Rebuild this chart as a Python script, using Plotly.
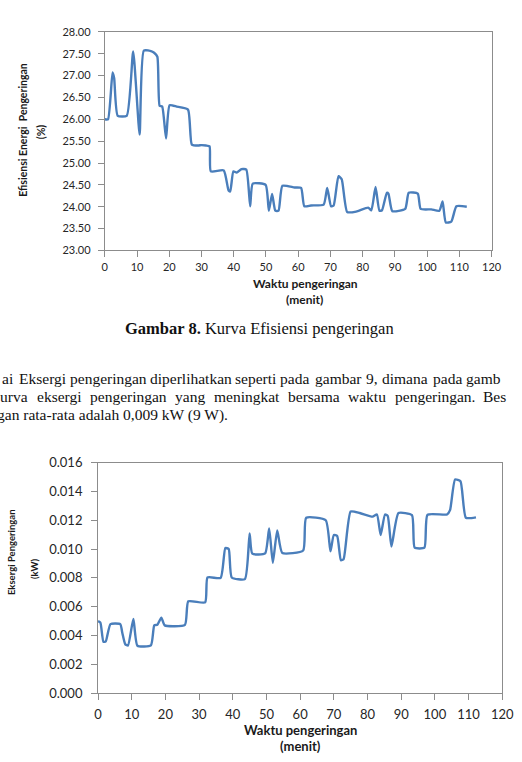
import plotly.graph_objects as go

W, H = 522, 762

# ---- Chart 1: Efisiensi energi pengeringan (%) ----
eff_time = [0, 1.0, 2.4, 2.9, 4.0, 6.8, 8.8, 10.8, 12.1, 14.3, 15.3, 16.3, 17.0, 17.8,
            19.0, 20.1, 22.3, 25.8, 27.0, 29.0, 30.0, 31.4, 32.5, 32.9, 36.9, 38.4,
            38.9, 39.9, 40.9, 42.4, 43.9, 45.1, 45.9, 49.9, 50.9, 51.9, 52.9, 53.9,
            55.1, 58.9, 60.9, 61.9, 64.0, 67.9, 69.0, 70.2, 71.0, 72.5, 73.5, 75.2,
            78.0, 81.7, 82.7, 84.0, 85.2, 86.0, 87.5, 88.0, 89.2, 93.2, 94.3, 97.1,
            98.0, 101.3, 103.8, 104.8, 105.8, 107.5, 109.1, 112.3]
eff_value = [26.00, 26.00, 27.07, 26.94, 26.08, 26.08, 27.55, 25.65, 27.57, 27.56, 27.52,
             27.43, 26.31, 26.29, 25.56, 26.32, 26.29, 26.22, 25.42, 25.40, 25.41, 25.40,
             25.38, 24.81, 24.83, 24.37, 24.35, 24.81, 24.78, 24.86, 24.85, 24.01, 24.53,
             24.50, 23.91, 24.29, 23.91, 23.91, 24.48, 24.44, 24.43, 24.01, 24.03, 24.05,
             24.43, 24.01, 24.03, 24.70, 24.63, 23.88, 23.89, 23.98, 23.92, 24.45, 23.91,
             23.92, 24.32, 24.30, 23.90, 23.95, 24.32, 24.30, 23.95, 23.94, 23.91, 24.12,
             23.64, 23.66, 24.01, 24.00]

# ---- Chart 2: Eksergi pengeringan (kW) ----
exg_time = [0, 0.7, 1.6, 2.3, 3.7, 6.6, 7.2, 8.1, 8.9, 10.5, 11.7, 15.7, 16.7, 17.6, 18.8,
            19.8, 25.8, 26.8, 31.8, 32.5, 36.4, 37.8, 38.8, 39.7, 43.6, 45.0, 45.8, 49.6,
            50.8, 51.9, 53.2, 54.7, 60.9, 61.8, 67.6, 69.0, 70.0, 71.0, 72.1, 72.9, 75.0,
            77.7, 81.5, 82.8, 83.9, 85.2, 86.0, 87.1, 89.2, 93.2, 94.0, 96.9, 97.8, 103.6,
            104.5, 106.0, 107.6, 109.2, 112.2]
exg_value = [0.00500, 0.00490, 0.00358, 0.00360, 0.00480, 0.00480, 0.00420, 0.00339,
             0.00332, 0.00516, 0.00330, 0.00332, 0.00471, 0.00475, 0.00525, 0.00471,
             0.00475, 0.00638, 0.00630, 0.00803, 0.00800, 0.01007, 0.01000, 0.00803,
             0.00792, 0.01109, 0.00968, 0.00970, 0.01143, 0.00905, 0.01130, 0.00973,
             0.00990, 0.01217, 0.01200, 0.00984, 0.01098, 0.01090, 0.00923, 0.00930,
             0.01260, 0.01250, 0.01225, 0.01240, 0.01098, 0.01240, 0.01230, 0.01018,
             0.01250, 0.01235, 0.01010, 0.01010, 0.01238, 0.01240, 0.01270, 0.01482,
             0.01470, 0.01217, 0.01220]

x_ticks = [0, 10, 20, 30, 40, 50, 60, 70, 80, 90, 100, 110, 120]
x_title = "Waktu pengeringan"
x_unit = "(menit)"
y1_title = "Efisiensi Energi  Pengeringan"
y1_unit = "(%)"
y2_title = "Eksergi Pengeringan"
y2_unit = "(kW)"
caption_bold = "Gambar 8."
caption_text = "Kurva Efisiensi pengeringan"
para_line1 = ["ai", "Eksergi", "pengeringan", "diperlihatkan", "seperti", "pada",
              "gambar", "9,", "dimana", "pada", "gamb"]
para_line2 = ["urva", "eksergi", "pengeringan", "yang", "meningkat", "bersama",
              "waktu", "pengeringan.", "Bes"]
para_line3 = "gan rata-rata adalah 0,009 kW (9 W)."

LINE = "#4a7ebb"
AX = "#8c8c8c"
TICKC = "#262626"
TICKF = "Lato, 'Open Sans', sans-serif"
SERIF = "'Liberation Serif', 'Times New Roman', serif"


def px(x):
    return x / W


def py(y):
    return 1 - y / H


fig = go.Figure()
fig.add_trace(go.Scatter(x=eff_time, y=eff_value, mode="lines",
                         line=dict(color=LINE, width=2.4, shape="spline", smoothing=0.5),
                         xaxis="x", yaxis="y", showlegend=False, hoverinfo="skip"))
fig.add_trace(go.Scatter(x=exg_time, y=exg_value, mode="lines",
                         line=dict(color=LINE, width=2.4, shape="spline", smoothing=0.5),
                         xaxis="x2", yaxis="y2", showlegend=False, hoverinfo="skip"))

axis_common = dict(showline=True, mirror=True, linecolor=AX, linewidth=1,
                   ticks="outside", tickcolor=AX, ticklen=6, tickwidth=1,
                   showgrid=False, zeroline=False)

fig.update_layout(
    width=W, height=H, margin=dict(l=0, r=0, t=0, b=0),
    paper_bgcolor="white", plot_bgcolor="white",
    xaxis=dict(domain=[px(104), px(503)], range=[0, 120], tickvals=x_ticks,
               anchor="y", tickfont=dict(family=TICKF, size=11, color=TICKC),
               **axis_common),
    yaxis=dict(domain=[py(247.7), py(24.3)], range=[23, 28], dtick=0.5,
               tickformat=".2f", anchor="x", ticklabelstandoff=5,
               tickfont=dict(family=TICKF, size=11, color=TICKC), **axis_common),
    xaxis2=dict(domain=[px(97), px(514)], range=[0, 120], tickvals=x_ticks,
                anchor="y2", ticklabelstandoff=3,
                tickfont=dict(family=TICKF, size=13, color=TICKC), **axis_common),
    yaxis2=dict(domain=[py(700), py(464.3)], range=[0, 0.016], dtick=0.002,
                tickformat=".3f", anchor="x2", ticklabelstandoff=6,
                tickfont=dict(family=TICKF, size=13, color=TICKC), **axis_common),
)

ann = []


def add(text, x, y, size, family=TICKF, xanchor="center", angle=0, color="#1a1a1a"):
    ann.append(dict(text=text, x=px(x), y=py(y), xref="paper", yref="paper",
                    xanchor=xanchor, yanchor="middle", showarrow=False,
                    textangle=angle, font=dict(family=family, size=size, color=color)))


# chart 1 titles
add("<b>%s</b>" % x_title, 311, 281, 12)
add("<b>%s</b>" % x_unit, 310, 298, 12)
add("<b>%s</b>" % y1_title, 20, 124, 10.5, angle=-90)
add("<b>%s</b>" % y1_unit, 38, 127, 10.5, angle=-90)

# chart 2 titles
add("<b>%s</b>" % x_title, 306, 737, 13)
add("<b>%s</b>" % x_unit, 306, 754, 13)
add("<b>%s</b>" % y2_title, 8, 556, 9.5, angle=-90)
add("<b>%s</b>" % y2_unit, 32, 573, 9.5, angle=-90)

# caption
add("<b>%s</b> %s" % (caption_bold, caption_text), 264, 327, 16.5, family=SERIF,
    color="#111111")

# paragraph (justified lines: word start positions in pixels)
l1_pos = [1, 18, 71, 154, 241, 288, 324, 376, 393, 445, 480]
for w, xpos in zip(para_line1, l1_pos):
    add(w, xpos - 5, 378, 15.5, family=SERIF, xanchor="left", color="#111111")
l2_pos = [-1, 37, 92, 179, 220, 296, 358, 406, 497]
for w, xpos in zip(para_line2, l2_pos):
    add(w, xpos - 5, 397, 15.5, family=SERIF, xanchor="left", color="#111111")
add(para_line3, -9, 416, 15.5, family=SERIF, xanchor="left", color="#111111")

fig.update_layout(annotations=ann)
fig.write_html("out.html")
